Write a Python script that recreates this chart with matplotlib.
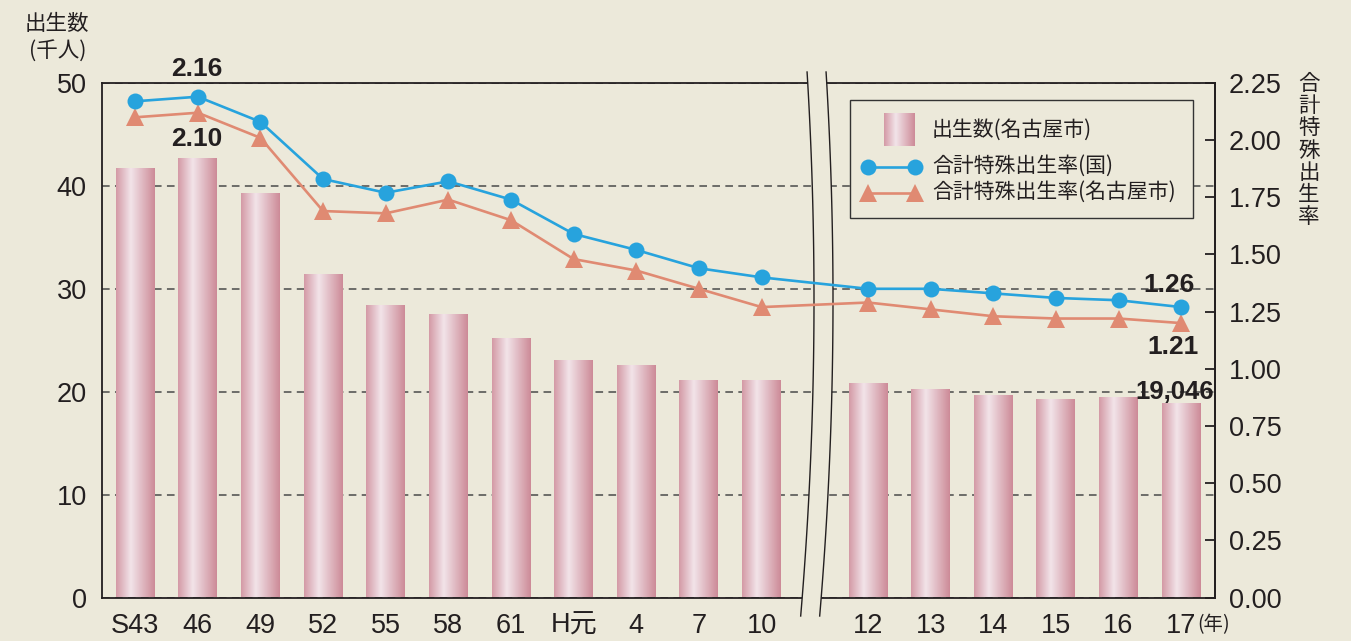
import numpy as np
import matplotlib
matplotlib.use('Agg')
import matplotlib.pyplot as plt
from matplotlib.lines import Line2D
from matplotlib.patches import Rectangle, Polygon

# ---------------- data ----------------
categories = ['S43', '46', '49', '52', '55', '58', '61', 'H元', '4', '7', '10',
              '12', '13', '14', '15', '16', '17']
births = [41.6, 42.6, 39.2, 31.3, 28.3, 27.5, 25.1, 23.0, 22.5, 21.0, 21.0,
          20.7, 20.2, 19.6, 19.2, 19.4, 18.8]
tfr_japan = [2.17, 2.19, 2.08, 1.83, 1.77, 1.82, 1.74, 1.59, 1.52, 1.44, 1.40,
             1.35, 1.35, 1.33, 1.31, 1.30, 1.27]
tfr_nagoya = [2.10, 2.12, 2.01, 1.69, 1.68, 1.74, 1.65, 1.48, 1.43, 1.35, 1.27,
              1.29, 1.26, 1.23, 1.22, 1.22, 1.20]
left_ticks = [0, 10, 20, 30, 40, 50]
right_ticks = [0.00, 0.25, 0.50, 0.75, 1.00, 1.25, 1.50, 1.75, 2.00, 2.25]

# ---------------- layout ----------------
W, H = 1351, 641
BG = '#ece9da'
DARK = '#231f20'
BLUE = '#27a3dd'
ORANGE = '#e08a72'
NUM = ['Liberation Sans', 'DejaVu Sans']
CJK = ['Noto Sans CJK JP', 'Liberation Sans', 'DejaVu Sans']

fig = plt.figure(figsize=(W / 100, H / 100), dpi=100, facecolor=BG)
AX_L, AX_R, AX_T, AX_B = 102, 1215, 83, 597.5
ax1 = fig.add_axes([AX_L / W, 1 - AX_B / H, (AX_R - AX_L) / W, (AX_B - AX_T) / H])
ax1.set_facecolor(BG)
ax2 = ax1.twinx()


def fpx(x, y):
    return x / W, 1 - y / H


def apx(x, y):
    return (x - AX_L) / (AX_R - AX_L), (AX_B - y) / (AX_B - AX_T)


# x positions: gap between "10" and "12"
xpos = np.array(list(range(11)) + [11.7 + i for i in range(6)], dtype=float)

# ---------------- bars with gradient ----------------
bars = ax1.bar(xpos, births, width=0.62, color='none', edgecolor='none', zorder=2)
stops = [0.0, 0.38, 1.0]
cols = np.array([[212, 154, 166], [242, 228, 233], [205, 139, 152]]) / 255.0
t = np.linspace(0, 1, 64)
grad = np.stack([np.interp(t, stops, cols[:, k]) for k in range(3)], axis=-1)[None, :, :]
for b in bars:
    x0, w, h = b.get_x(), b.get_width(), b.get_height()
    ax1.imshow(grad, extent=[x0, x0 + w, 0, h], aspect='auto',
               interpolation='bilinear', zorder=2)

ax1.set_xlim(-0.53, xpos[-1] + 0.54)
ax1.set_ylim(0, 50)
ax1.set_yticks(left_ticks)
ax1.set_yticklabels([str(v) for v in left_ticks], fontsize=19.5, family=NUM, color=DARK)
ax1.set_xticks(xpos)
ax1.set_xticklabels(categories, fontsize=19.5, family=CJK, color=DARK)
ax1.tick_params(axis='both', length=0)
ax1.tick_params(axis='y', pad=11)
ax1.tick_params(axis='x', pad=11)
for lab in ax1.get_xticklabels():
    lab.set_family(['Liberation Sans', 'Noto Sans CJK JP', 'DejaVu Sans'])

ax1.set_axisbelow(True)
ax1.yaxis.grid(True, linestyle=(0, (5, 3.5)), color='#4a4a4a', linewidth=1.1, zorder=1)
for s in ax1.spines.values():
    s.set_color(DARK)
    s.set_linewidth(1.3)

# ---------------- lines ----------------
ax2.plot(xpos, tfr_japan, color=BLUE, lw=1.9, marker='o', markersize=11.5,
         markeredgewidth=0, zorder=5, clip_on=False)
ax2.plot(xpos, tfr_nagoya, color=ORANGE, lw=1.9, marker='^', markersize=13,
         markeredgewidth=0, zorder=4, clip_on=False)
ax2.set_ylim(0, 2.25)
ax2.set_yticks(right_ticks)
ax2.set_yticklabels(['%.2f' % v for v in right_ticks], fontsize=19.5, family=NUM, color=DARK)
ax2.tick_params(axis='y', direction='in', length=7, width=1.3, color=DARK, pad=10)
for k in ['top', 'bottom', 'left']:
    ax2.spines[k].set_visible(False)
ax2.spines['right'].set_color(DARK)
ax2.spines['right'].set_linewidth(1.3)

# ---------------- axis break ----------------
ys = np.linspace(72, 616, 60)
mid = 300.0
half = 300.0
bulge = 1 - ((ys - mid) / half) ** 2
xl = 802 + 12 * bulge
xr = 821 + 12 * bulge
poly_pts = [fpx(x, y) for x, y in zip(xl, ys)] + [fpx(x, y) for x, y in zip(xr[::-1], ys[::-1])]
ax1.add_patch(Polygon(poly_pts, closed=True, transform=fig.transFigure,
                      facecolor=BG, edgecolor='none', zorder=3, clip_on=False))
for xc in (xl, xr):
    pts = np.array([fpx(x, y) for x, y in zip(xc, ys)])
    ax2.add_line(Line2D(pts[:, 0], pts[:, 1], transform=fig.transFigure,
                        color=DARK, lw=1.0, zorder=3, clip_on=False))

# ---------------- annotations ----------------
i46, ilast = 1, len(xpos) - 1
ax2.annotate('2.16', (xpos[i46], tfr_japan[i46]), xytext=(-1, 20), textcoords='offset points',
             ha='center', va='center', fontsize=19, fontweight='bold', family=NUM, color=DARK)
ax2.annotate('2.10', (xpos[i46], tfr_nagoya[i46]), xytext=(-1, -19), textcoords='offset points',
             ha='center', va='center', fontsize=19, fontweight='bold', family=NUM, color=DARK)
ax2.annotate('1.26', (xpos[ilast], tfr_japan[ilast]), xytext=(-9, 16), textcoords='offset points',
             ha='center', va='center', fontsize=19, fontweight='bold', family=NUM, color=DARK)
ax2.annotate('1.21', (xpos[ilast], tfr_nagoya[ilast]), xytext=(-6, -17), textcoords='offset points',
             ha='center', va='center', fontsize=19, fontweight='bold', family=NUM, color=DARK)
ax1.annotate('19,046', (xpos[ilast], births[ilast]), xytext=(-5, 9), textcoords='offset points',
             ha='center', va='center', fontsize=18.5, fontweight='bold', family=NUM, color=DARK,
             zorder=6)

# ---------------- axis titles ----------------
fig.text(*fpx(57, 24), '出生数', ha='center', va='center', fontsize=15.5, family=CJK, color=DARK)
fig.text(*fpx(58, 52), '(千人)', ha='center', va='center', fontsize=15.5, family=CJK, color=DARK)
for i, ch in enumerate('合計特殊出生率'):
    fig.text(*fpx(1309, 84 + i * 22.2), ch, ha='center', va='center', fontsize=15.5,
             family=CJK, color=DARK)
fig.text(*fpx(1197, 625), '(年)', ha='left', va='center', fontsize=14, family=CJK, color=DARK)

# ---------------- legend (drawn manually) ----------------
lx0, ly0 = apx(850, 218)
lx1, ly1 = apx(1193, 100)
ax2.add_patch(Rectangle((lx0, ly0), lx1 - lx0, ly1 - ly0, transform=ax2.transAxes,
                        facecolor=BG, edgecolor='#333333', lw=1.0, zorder=7))
gx0, gy0 = apx(884, 146)
gx1, gy1 = apx(915, 113)
ax2.imshow(grad, extent=[gx0, gx1, gy0, gy1], transform=ax2.transAxes, aspect='auto',
           interpolation='bilinear', zorder=8)
for y, c, m, ms in [(167, BLUE, 'o', 11.5), (193, ORANGE, '^', 13)]:
    a, yy = apx(868, y)
    b, _ = apx(915, y)
    ax2.add_line(Line2D([a, b], [yy, yy], transform=ax2.transAxes, color=c, lw=1.9,
                        marker=m, markersize=ms, markeredgewidth=0, zorder=8, clip_on=False))
for y, s in [(130, '出生数(名古屋市)'), (166, '合計特殊出生率(国)'), (192, '合計特殊出生率(名古屋市)')]:
    tx, ty = apx(932, y)
    ax2.text(tx, ty, s, transform=ax2.transAxes, ha='left', va='center', fontsize=15,
             family=CJK, color=DARK, zorder=9)

ax1.set_xlim(-0.53, xpos[-1] + 0.54)
ax1.set_ylim(0, 50)
ax2.set_ylim(0, 2.25)

fig.savefig('out.png', dpi=100, facecolor=BG)
